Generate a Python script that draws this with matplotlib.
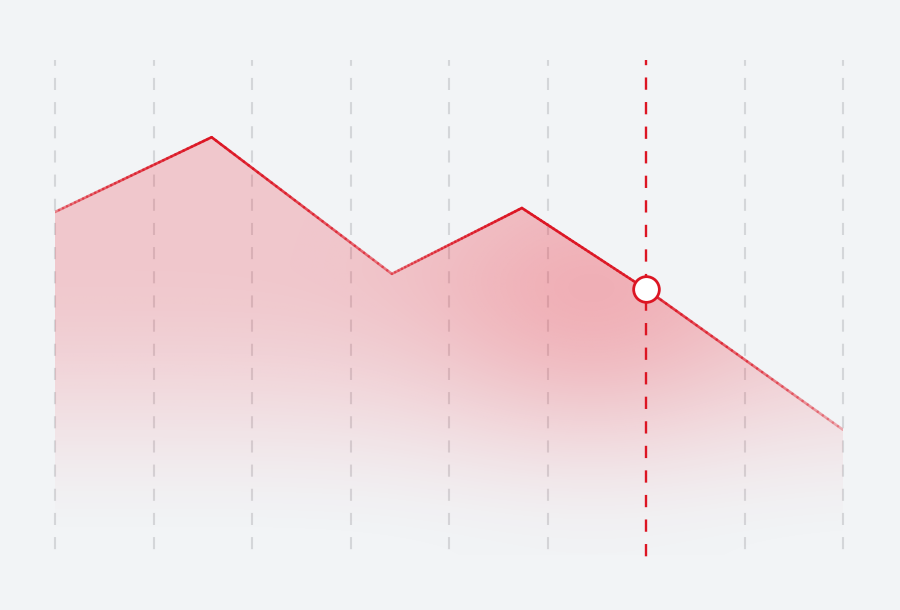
import numpy as np
import matplotlib
matplotlib.use("Agg")
import matplotlib.pyplot as plt
from matplotlib.collections import LineCollection
from matplotlib.colors import to_rgb

# datos de la serie
grid_x = [0, 1, 2, 3, 4, 5, 6, 7, 8]
line_x = [0, 1.59, 3.42, 4.74, 6, 8]
line_y = [69.3, 84.4, 56.8, 70.1, 53.7, 25.3]
marker_x = 6
marker_y = 53.7
# opacidad del trazo en cada vértice
stroke_alpha = [0.45, 1.0, 0.5, 1.0, 0.9, 0.3]

bg = "#f2f4f6"
red = "#dc1523"
fill_red = "#ec2a3a"

fig = plt.figure(figsize=(9, 6.1), dpi=100, facecolor=bg)
ax = fig.add_axes([55 / 900, 55 / 610, 788 / 900, 495 / 610])
ax.set_facecolor(bg)
ax.set_xlim(0, 8)
ax.set_ylim(0, 100)
ax.axis("off")

# líneas verticales punteadas
for gx in grid_x:
    if gx == marker_x:
        continue
    ax.plot([gx, gx], [100, -1.2], color="#d4d6d9", lw=1.5,
            linestyle=(3, (5.8, 5.8)), clip_on=False, zorder=1)

# relleno con degradado
poly = ax.fill_between(line_x, line_y, 0, color="none", lw=0, zorder=2)
xs = np.linspace(0, 8, 400)
ys = np.linspace(0, 100, 300)
X, Y = np.meshgrid(xs, ys)
t = np.clip((Y - 1) / 58, 0, 1)
a_v = 0.22 * t * t * (3 - 2 * t)
px = X * 98.5
py = Y * 4.95
cx, cy = 5.45 * 98.5, 48 * 4.95
a_g = 0.13 * np.exp(-(((px - cx) / 115) ** 2 + ((py - cy) / 100) ** 2) / 2)
rgba = np.zeros(X.shape + (4,))
rgba[..., :3] = to_rgb(fill_red)
rgba[..., 3] = np.clip(a_v + a_g, 0, 0.6)
im = ax.imshow(rgba, extent=[0, 8, 0, 100], origin="lower",
               aspect="auto", interpolation="bilinear", zorder=2)
im.set_clip_path(poly.get_paths()[0], transform=ax.transData)

# trazo con opacidad variable (subdividido solo para el degradado)
segs, cols = [], []
r, g, b = to_rgb(red)
for i in range(len(line_x) - 1):
    tt = np.linspace(0, 1, 40)
    sx = line_x[i] + (line_x[i + 1] - line_x[i]) * tt
    sy = line_y[i] + (line_y[i + 1] - line_y[i]) * tt
    sa = stroke_alpha[i] + (stroke_alpha[i + 1] - stroke_alpha[i]) * tt
    for k in range(len(tt) - 1):
        segs.append([(sx[k], sy[k]), (sx[k + 1], sy[k + 1])])
        cols.append((r, g, b, (sa[k] + sa[k + 1]) / 2))
lc = LineCollection(segs, colors=cols, linewidths=1.9,
                    capstyle="round", joinstyle="round", zorder=4)
ax.add_collection(lc)

# línea roja y marcador
ax.plot([marker_x, marker_x], [100, -1.2], color=red, lw=1.7,
        linestyle=(3, (5.2, 5.2)), clip_on=False, zorder=3)
ax.plot(marker_x, marker_y, "o", ms=18.5, mfc="white", mec=red, mew=2.0,
        zorder=5, clip_on=False)

fig.savefig("out.png", dpi=100, facecolor=bg)
